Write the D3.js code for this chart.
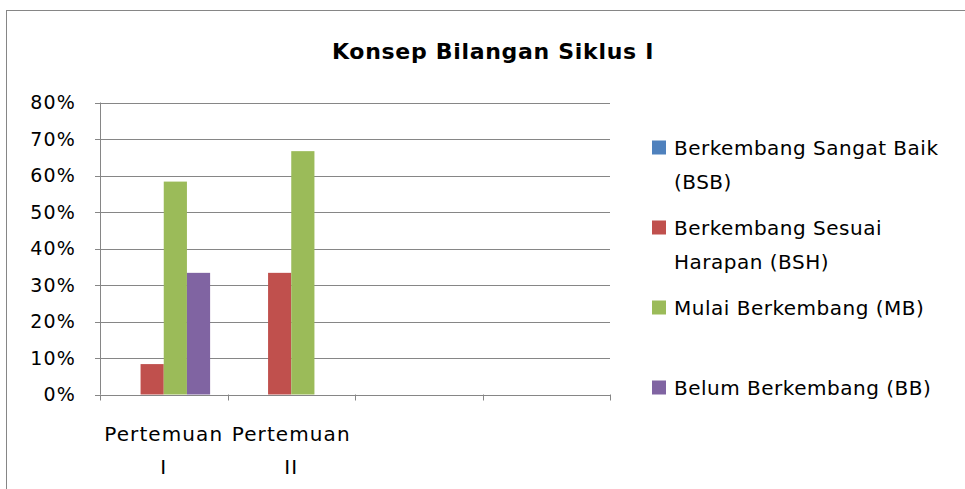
<!DOCTYPE html>
<html>
<head>
<meta charset="utf-8">
<script src="https://cdn.jsdelivr.net/npm/d3@7"></script>
<style>
  html, body { margin: 0; padding: 0; background: #fff; }
  svg { display: block; font-family: "DejaVu Sans", "Noto Sans", sans-serif; }
</style>
</head>
<body>
<svg id="chart" width="965" height="489"></svg>
<script>
// Data
const categories = ['Pertemuan I', 'Pertemuan II', '', ''];
const categoryLines = [['Pertemuan', 'I'], ['Pertemuan', 'II'], [], []];
const seriesNames = ['Berkembang Sangat Baik (BSB)', 'Berkembang Sesuai Harapan (BSH)', 'Mulai Berkembang (MB)', 'Belum Berkembang (BB)'];
const legendLines = [['Berkembang Sangat Baik', '(BSB)'], ['Berkembang Sesuai', 'Harapan (BSH)'], ['Mulai Berkembang (MB)'], ['Belum Berkembang (BB)']];
const seriesColors = ['#4F81BD', '#C0504D', '#9BBB59', '#8064A2'];
const valuesBSB = [0, 0, null, null];
const valuesBSH = [0.0833, 0.3333, null, null];
const valuesMB = [0.5833, 0.6667, null, null];
const valuesBB = [0.3333, 0, null, null];
const seriesValues = [valuesBSB, valuesBSH, valuesMB, valuesBB];
const yTicks = [0, 0.1, 0.2, 0.3, 0.4, 0.5, 0.6, 0.7, 0.8];
const title = 'Konsep Bilangan Siklus I';

const svg = d3.select('#chart');

// Outer frame (chart area border, runs off right and bottom)
svg.append('rect')
  .attr('x', 6.5).attr('y', 10.5)
  .attr('width', 1000).attr('height', 500)
  .attr('fill', 'none')
  .attr('stroke', '#868686')
  .attr('stroke-width', 1);

// Plot area
const plot = { left: 100, right: 610, top: 102.5, bottom: 394.5 };

const x0 = d3.scaleBand()
  .domain(d3.range(categories.length))
  .range([plot.left, plot.right])
  .paddingInner(0).paddingOuter(0);

// Excel gap width 150%: 4 bars + 1.5 bar gap per category
const barW = x0.bandwidth() / (seriesNames.length + 1.5);
const x1 = d3.scaleBand()
  .domain(d3.range(seriesNames.length))
  .range([barW * 0.75, barW * 0.75 + barW * seriesNames.length]);

const y = d3.scaleLinear()
  .domain([0, 0.8])
  .range([plot.bottom, plot.top]);

// Grid lines
svg.append('g')
  .selectAll('line')
  .data(yTicks)
  .join('line')
  .attr('x1', plot.left - 5).attr('x2', plot.right)
  .attr('y1', d => Math.round(y(d)) + 0.5)
  .attr('y2', d => Math.round(y(d)) + 0.5)
  .attr('stroke', '#868686')
  .attr('stroke-width', 1);

// Y axis labels
const yAxis = d3.axisLeft(y)
  .tickValues(yTicks)
  .tickFormat(d3.format('.0%'))
  .tickSize(0)
  .tickPadding(24);

const gy = svg.append('g')
  .attr('transform', `translate(${plot.left},0)`)
  .call(yAxis);
gy.select('.domain').remove();
gy.selectAll('text')
  .style('font-family', '"DejaVu Sans", sans-serif')
  .style('font-size', '19px')
  .style('letter-spacing', '1.2px')
  .attr('fill', '#000');

// Y axis line
svg.append('line')
  .attr('x1', plot.left + 0.5).attr('x2', plot.left + 0.5)
  .attr('y1', plot.top).attr('y2', plot.bottom)
  .attr('stroke', '#868686');

// Bars
seriesValues.forEach((vals, si) => {
  svg.append('g')
    .selectAll('rect')
    .data(vals.map((v, ci) => ({ v, ci })).filter(d => d.v !== null && d.v > 0))
    .join('rect')
    .attr('x', d => x0(d.ci) + x1(si))
    .attr('width', x1.bandwidth())
    .attr('y', d => y(d.v))
    .attr('height', d => plot.bottom - y(d.v))
    .attr('fill', seriesColors[si]);
});

// X axis line
svg.append('line')
  .attr('x1', plot.left).attr('x2', plot.right)
  .attr('y1', Math.round(plot.bottom) + 0.5).attr('y2', Math.round(plot.bottom) + 0.5)
  .attr('stroke', '#868686');

// Category boundary ticks
const boundaries = d3.range(categories.length + 1).map(i => plot.left + i * x0.bandwidth());
svg.append('g')
  .selectAll('line')
  .data(boundaries)
  .join('line')
  .attr('x1', d => Math.round(d) + 0.5).attr('x2', d => Math.round(d) + 0.5)
  .attr('y1', plot.bottom).attr('y2', plot.bottom + 6)
  .attr('stroke', '#868686');

// Category labels
categoryLines.forEach((lines, ci) => {
  lines.forEach((line, li) => {
    svg.append('text')
      .attr('x', x0(ci) + x0.bandwidth() / 2)
      .attr('y', 441 + li * 33)
      .attr('text-anchor', 'middle')
      .style('font-size', '20px')
      .style('letter-spacing', '1.1px')
      .attr('fill', '#000')
      .text(line);
  });
});

// Title
svg.append('text')
  .attr('x', 493)
  .attr('y', 59)
  .attr('text-anchor', 'middle')
  .style('font-size', '22px')
  .style('font-weight', '700')
  .style('letter-spacing', '0.7px')
  .attr('fill', '#000')
  .text(title);

// Legend
const legend = svg.append('g');
legendLines.forEach((lines, si) => {
  const cy = 147.5 + si * 80;
  legend.append('rect')
    .attr('x', 652).attr('y', cy - 7)
    .attr('width', 14).attr('height', 14)
    .attr('fill', seriesColors[si]);
  lines.forEach((line, li) => {
    legend.append('text')
      .attr('x', 674)
      .attr('y', cy + 7 + li * 34)
      .style('font-size', '20px')
      .style('letter-spacing', '0.5px')
      .attr('fill', '#000')
      .text(line);
  });
});
</script>
</body>
</html>
